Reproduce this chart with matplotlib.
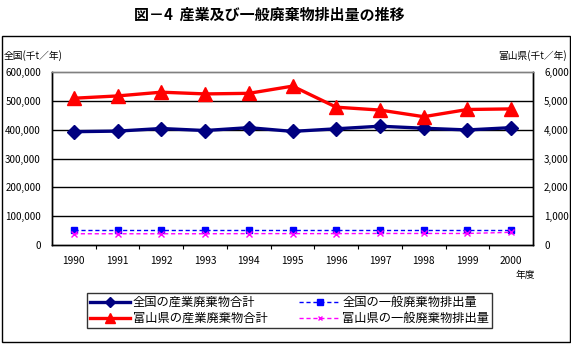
import matplotlib
matplotlib.use("Agg")
import matplotlib.pyplot as plt
from matplotlib.lines import Line2D
from matplotlib.patches import Rectangle
from matplotlib.ticker import FuncFormatter

plt.rcParams['font.family'] = ['Noto Sans CJK JP', 'DejaVu Sans']

years = ['1990', '1991', '1992', '1993', '1994', '1995', '1996', '1997', '1998', '1999', '2000']
national_industrial = [393000, 395000, 404000, 397000, 407000, 394000, 403000, 412000, 405000, 399000, 407000]
toyama_industrial = [5090, 5170, 5300, 5240, 5260, 5510, 4780, 4680, 4450, 4700, 4720]
national_general = [52000, 52000, 52000, 52000, 52000, 52000, 52000, 52000, 52000, 52000, 52000]
toyama_general = [390, 390, 390, 390, 395, 395, 395, 400, 400, 400, 440]

labels = ['全国の産業廃棄物合計', '富山県の産業廃棄物合計', '全国の一般廃棄物排出量', '富山県の一般廃棄物排出量']

W, H = 571, 344
fig = plt.figure(figsize=(W / 100, H / 100), dpi=100)

def fx(px):
    return px / W

def fy(py):
    return 1 - py / H

# outer frame
fig.add_artist(Rectangle((fx(1.5), fy(342)), fx(568), (342 - 35.5) / H,
                         transform=fig.transFigure, fill=False, edgecolor='black', lw=1))

fig.text(fx(269), fy(15), '図－4  産業及び一般廃棄物排出量の推移', ha='center', va='center',
         fontsize=10.8, fontweight='bold')

ax = fig.add_axes([fx(52), fy(245), fx(533 - 52), (245 - 72) / H])
ax2 = ax.twinx()

x = list(range(len(years)))
ax.plot(x, national_industrial, color='#000080', lw=2.4, marker='D', ms=7.5, zorder=5)
ax.plot(x, national_general, color='#0000FF', lw=1, ls=(0, (3, 2)), marker='s', ms=4.5, zorder=5)
ax2.plot(x, toyama_industrial, color='#FF0000', lw=2.4, marker='^', ms=9.5, zorder=5)
ax2.plot(x, toyama_general, color='#FF00FF', lw=1, ls=(0, (3, 2)), marker='x', ms=4, mew=1, zorder=5)

ax.set_xlim(-0.5, len(years) - 0.5)
ax.set_ylim(0, 600000)
ax2.set_ylim(0, 6000)
ax.set_yticks(range(0, 600001, 100000))
ax2.set_yticks(range(0, 6001, 1000))
ax.yaxis.set_major_formatter(FuncFormatter(lambda v, p: f'{int(v):,}'))
ax2.yaxis.set_major_formatter(FuncFormatter(lambda v, p: f'{int(v):,}'))
for yv in range(100000, 600000, 100000):
    ax.axhline(yv, color='black', lw=1, zorder=1)

ax.set_xticks(x)
ax.set_xticklabels(years)
ax.set_xticks([i + 0.5 for i in range(len(years) - 1)], minor=True)
ax.tick_params(axis='x', which='major', length=0, pad=8, labelsize=7.3)
ax.tick_params(axis='x', which='minor', length=3, direction='out', width=0.8)
ax.tick_params(axis='y', length=0, pad=8, labelsize=7)
ax2.tick_params(axis='y', length=0, pad=8, labelsize=7)

for a in (ax, ax2):
    for s in ('left', 'right', 'bottom'):
        a.spines[s].set_color('black')
        a.spines[s].set_linewidth(1)
    a.spines['top'].set_color('#808080')
    a.spines['top'].set_linewidth(1)

fig.text(fx(4), fy(56), '全国(千t／年)', ha='left', va='center', fontsize=7)
fig.text(fx(567), fy(56), '富山県(千t／年)', ha='right', va='center', fontsize=7)
fig.text(fx(525), fy(275), '年度', ha='center', va='center', fontsize=7)

handles = [
    Line2D([], [], color='#000080', lw=2.4, marker='D', ms=5),
    Line2D([], [], color='#FF0000', lw=2.4, marker='^', ms=7),
    Line2D([], [], color='#0000FF', lw=1, ls=(0, (3, 2)), marker='s', ms=4),
    Line2D([], [], color='#FF00FF', lw=1, ls=(0, (3, 2)), marker='x', ms=3.5),
]
leg = fig.legend(handles, labels, ncol=2, loc='center left',
                 bbox_to_anchor=(fx(87), fy(310.5)), fontsize=8.8, frameon=True,
                 fancybox=False, edgecolor='black', handlelength=3.3, handletextpad=0.2,
                 columnspacing=2.6, borderpad=0.25, labelspacing=0.25, numpoints=1,
                 borderaxespad=0)
leg.get_frame().set_linewidth(1)

fig.savefig('out.png', dpi=100)
